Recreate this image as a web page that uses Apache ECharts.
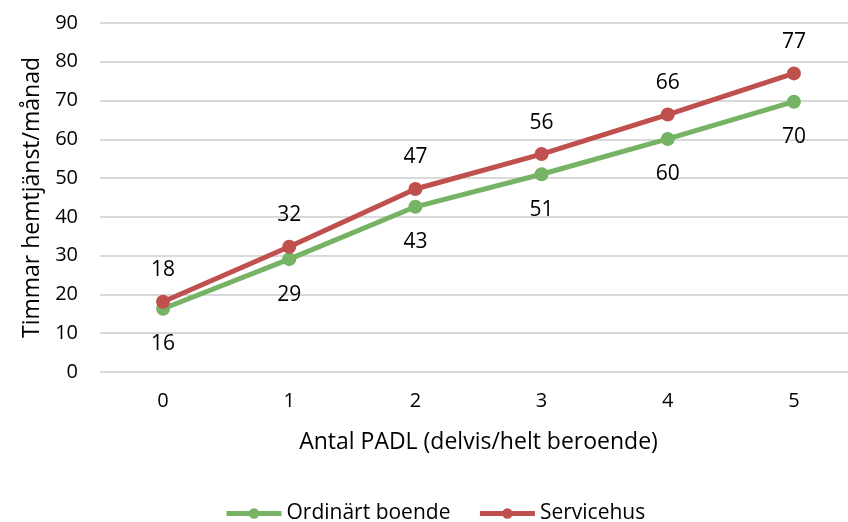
<!DOCTYPE html>
<html>
<head>
<meta charset="utf-8">
<script src="https://cdn.jsdelivr.net/npm/echarts@6/dist/echarts.min.js"></script>
<style>html,body{margin:0;padding:0;background:#fff;overflow:hidden;}#c{width:857px;height:522px;}</style>
</head>
<body>
<div id="c"></div>
<script>
const categories = ['0', '1', '2', '3', '4', '5'];
const ordinart = [16.3, 29.1, 42.6, 51.0, 60.1, 69.7];
const servicehus = [18.1, 32.3, 47.2, 56.2, 66.4, 77.0];
const seriesNames = ['Ordinärt boende', 'Servicehus'];
const xTitle = 'Antal PADL (delvis/helt beroende)';
const yTitle = 'Timmar hemtjänst/månad';

const FONT = 'Open Sans';
const FS = 20;
const FT = 23;
const chart = echarts.init(document.getElementById('c'), null, {renderer: 'canvas'});
function lbl(pos, dist) {
  return {show: true, position: pos, distance: dist, color: '#000', fontFamily: FONT, fontSize: 21,
    formatter: p => Math.round(p.value)};
}
chart.setOption({
  animation: false,
  textStyle: {fontFamily: FONT},
  grid: {left: 100, right: 0, top: 23, bottom: 150, containLabel: false},
  xAxis: {
    type: 'category', data: categories, boundaryGap: true,
    axisLine: {show: false}, axisTick: {show: false},
    axisLabel: {color: '#000', fontSize: FS, fontFamily: FONT, margin: 19},
    name: xTitle, nameLocation: 'middle', nameGap: 59,
    nameTextStyle: {color: '#000', fontSize: FT, fontFamily: FONT}
  },
  yAxis: {
    type: 'value', min: 0, max: 90, interval: 10,
    axisLine: {show: false}, axisTick: {show: false},
    axisLabel: {color: '#000', fontSize: FS, fontFamily: FONT, margin: 22},
    splitLine: {lineStyle: {color: '#d9d9d9', width: 2}},
    name: yTitle, nameLocation: 'middle', nameGap: 56,
    nameTextStyle: {color: '#000', fontSize: FT, fontFamily: FONT}
  },
  legend: {
    bottom: -7, left: 219, itemWidth: 55, itemHeight: 13, itemGap: 27,
    lineStyle: {width: 5},
    textStyle: {color: '#000', fontSize: 21, fontFamily: FONT},
    data: seriesNames
  },
  series: [
    {name: seriesNames[0], type: 'line', data: ordinart, symbol: 'circle', symbolSize: 14,
     color: '#77b364', lineStyle: {width: 5, color: '#77b364'}, itemStyle: {color: '#77b364'},
     label: lbl('bottom', 18)},
    {name: seriesNames[1], type: 'line', data: servicehus, symbol: 'circle', symbolSize: 14,
     color: '#c0504d', lineStyle: {width: 5, color: '#c0504d'}, itemStyle: {color: '#c0504d'},
     label: lbl('top', 14)}
  ]
});
</script>
</body>
</html>
